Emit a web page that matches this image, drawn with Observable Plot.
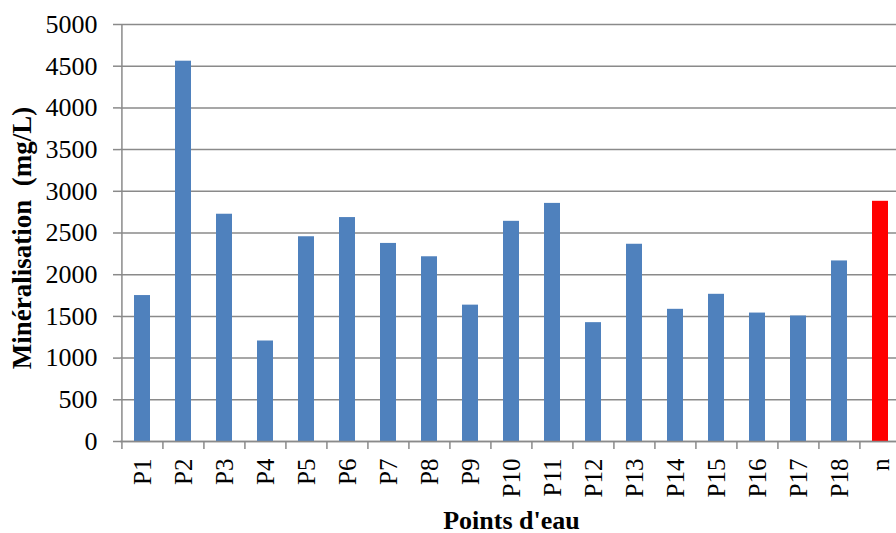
<!DOCTYPE html>
<html><head><meta charset="utf-8">
<script src="https://cdn.jsdelivr.net/npm/d3@7"></script>
<script src="https://cdn.jsdelivr.net/npm/@observablehq/plot@0.6"></script>
<style>html,body{margin:0;padding:0;background:#fff;overflow:hidden}</style>
</head><body><div id="chart"></div>
<script>
const categories = ["P1","P2","P3","P4","P5","P6","P7","P8","P9","P10","P11","P12","P13","P14","P15","P16","P17","P18","n"];
const values = [1750, 4560, 2725, 1205, 2455, 2685, 2375, 2215, 1635, 2640, 2855, 1425, 2365, 1585, 1765, 1540, 1505, 2165, 2880];
const highlight = "n";
const yTicks = [0, 500, 1000, 1500, 2000, 2500, 3000, 3500, 4000, 4500, 5000];
const xTitle = "Points d'eau";
const yTitle = "Minéralisation  (mg/L)";

const data = categories.map((c, i) => ({cat: c, value: values[i]}));
const W = 896, H = 533;
const xRange = [120, 902];
const step = (xRange[1] - xRange[0]) / categories.length;
const font = '"Liberation Serif","Times New Roman",serif';
const grid = "#8a8a8a";

const chart = Plot.plot({
  width: W, height: H,
  marginLeft: 120, marginRight: 0, marginTop: 24, marginBottom: 92,
  style: {fontFamily: font, background: "#fff", color: "#000", overflow: "hidden"},
  x: {domain: categories, range: xRange, paddingInner: 0.6, paddingOuter: 0.3, align: 0.5},
  y: {domain: [0, 5000]},
  color: {type: "identity"},
  marks: [
    Plot.gridY(yTicks, {stroke: grid, strokeOpacity: 1, strokeWidth: 1.5}),
    Plot.barY(data, {x: "cat", y: "value", fill: d => d.cat === highlight ? "#ff0000" : "#4f81bd"}),
    Plot.ruleY([0], {stroke: grid, strokeWidth: 1.5}),
    Plot.ruleX(categories.slice(0, 1), {x: d => d, dx: -step / 2, y1: 0, y2: 5000, stroke: grid, strokeWidth: 1.5}),
    Plot.axisX({tickSize: 8, tickFormat: () => "", dx: -step / 2, stroke: grid, strokeWidth: 1.5, label: null}),
    Plot.axisX({tickSize: 0, tickPadding: 17, tickRotate: -90, fontSize: 25, fill: "#000", label: null}),
    Plot.axisY(yTicks, {tickSize: 7, tickPadding: 16, fontSize: 26, tickFormat: d3.format("d"), stroke: grid, strokeWidth: 1.5, fill: "#000", label: null}),
    Plot.text([yTitle], {text: d => d, frameAnchor: "left", rotate: -90, textAnchor: "middle", lineAnchor: "middle", dx: -98, dy: 5, fontSize: 27, fontWeight: "bold", fill: "#000"}),
    Plot.text([xTitle], {text: d => d, frameAnchor: "bottom", textAnchor: "middle", lineAnchor: "bottom", dx: 3, dy: 87, fontSize: 26, fontWeight: "bold", fill: "#000"})
  ]
});
document.getElementById("chart").appendChild(chart);
</script>
</body></html>
